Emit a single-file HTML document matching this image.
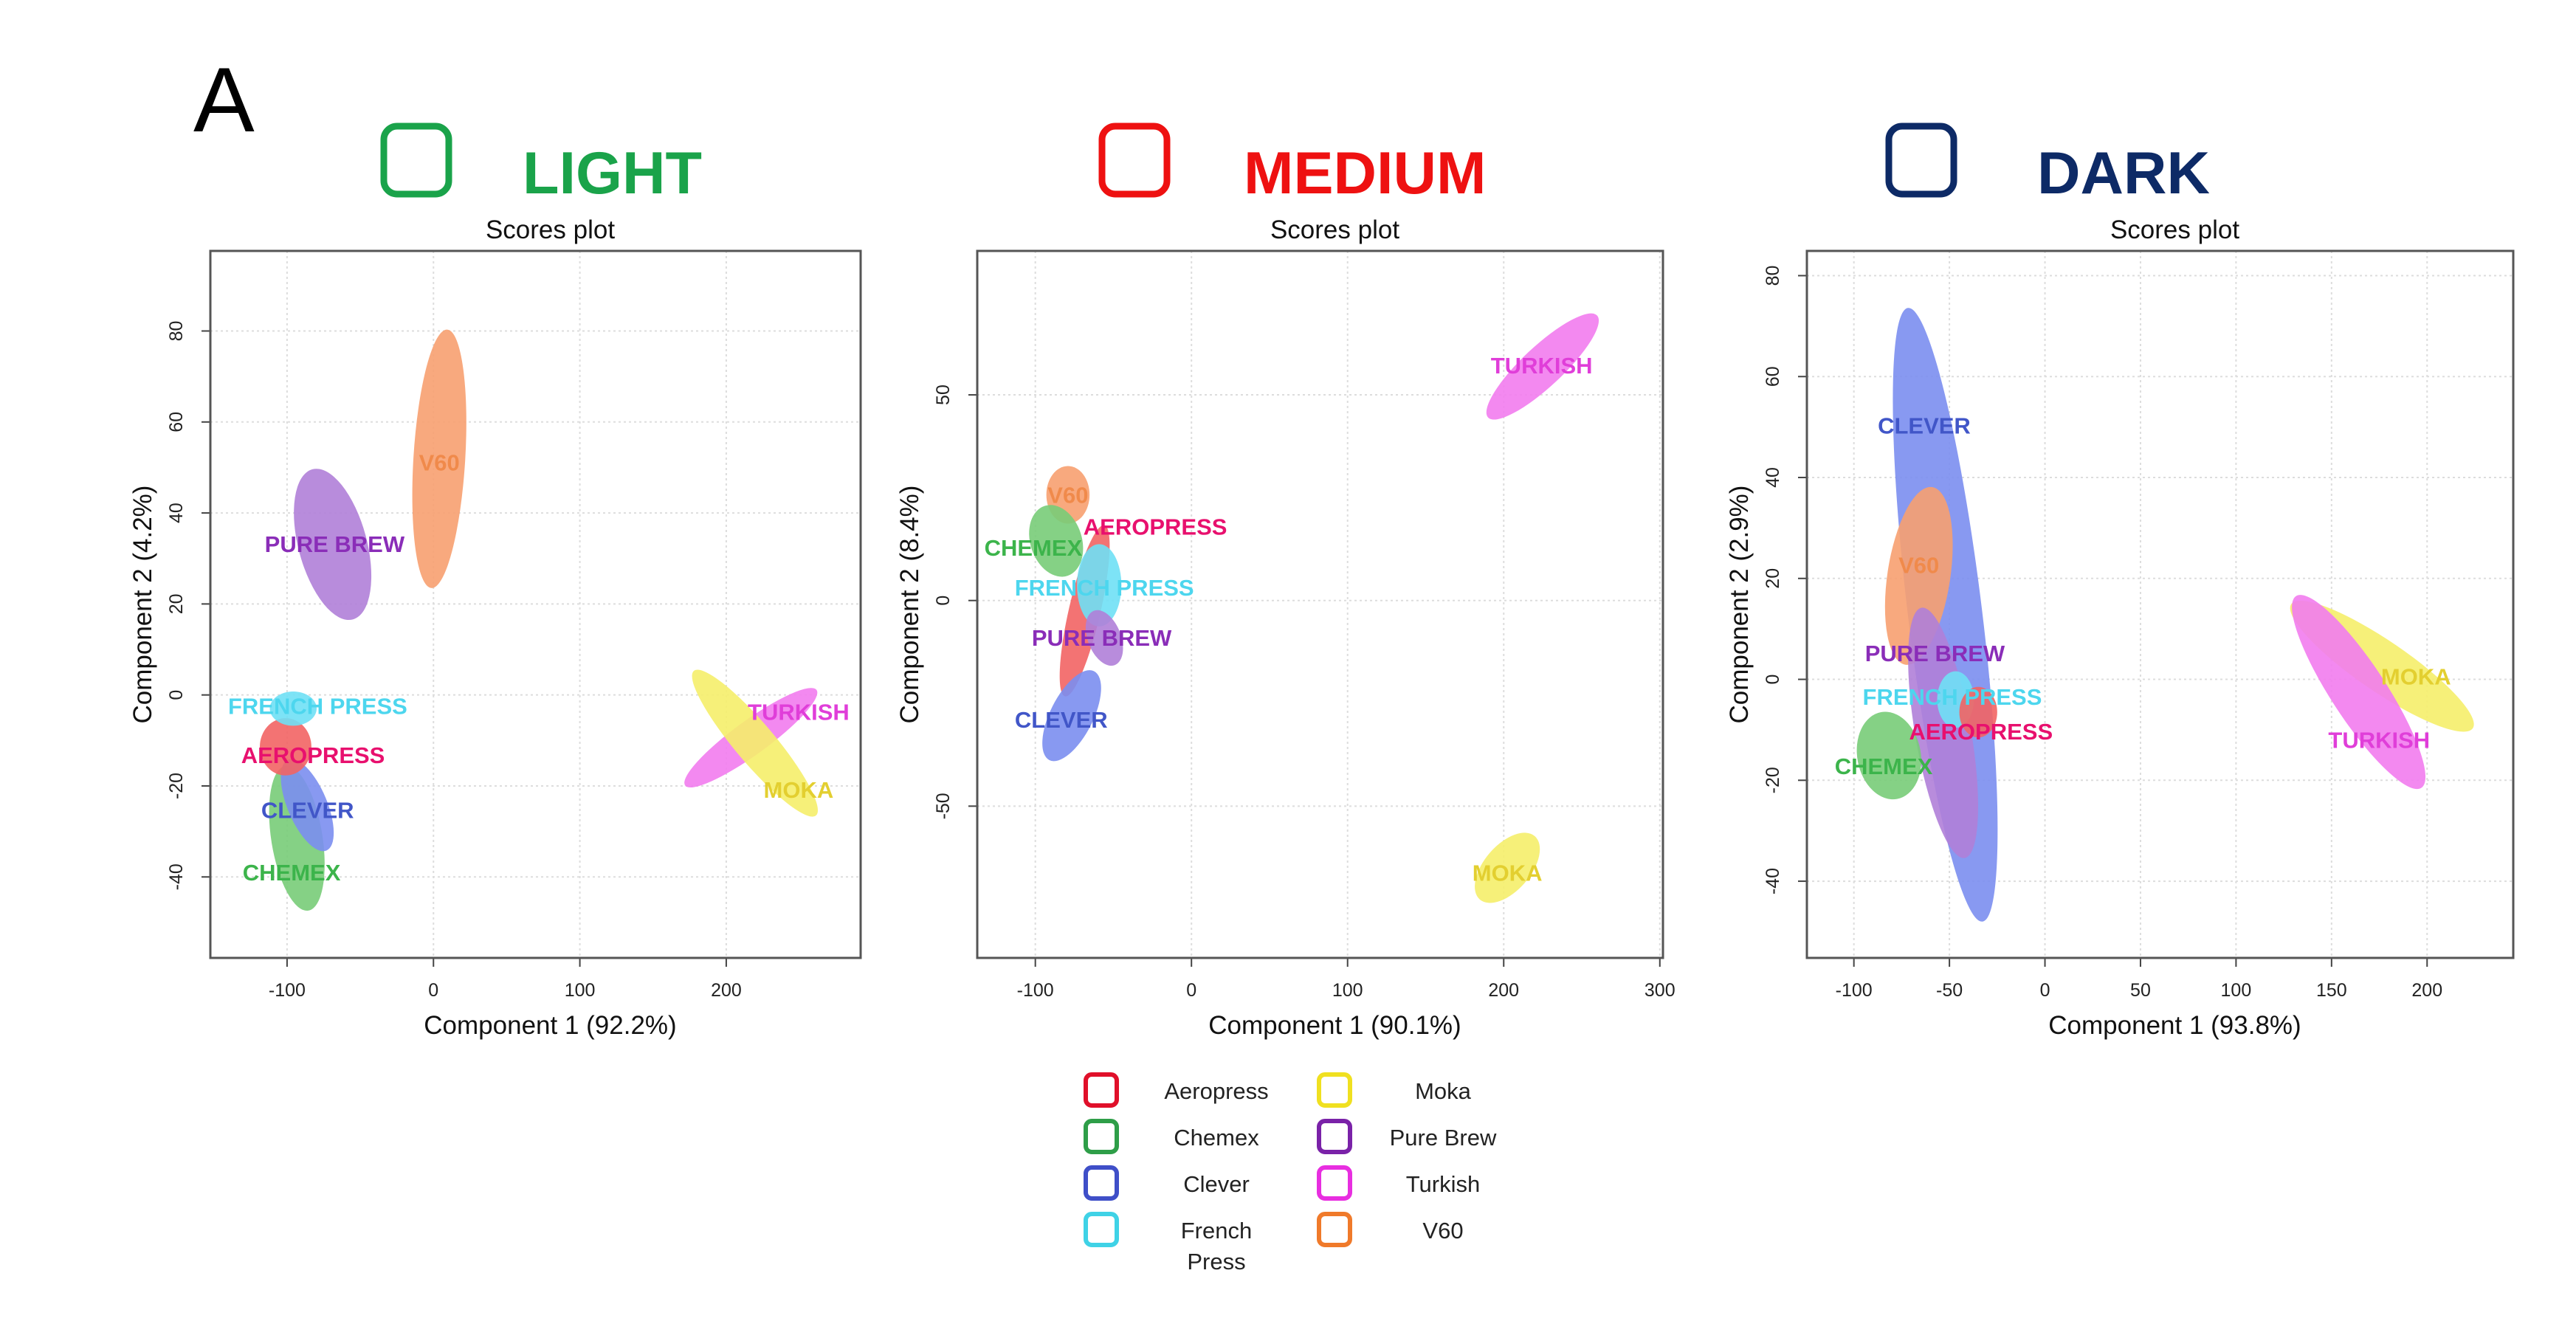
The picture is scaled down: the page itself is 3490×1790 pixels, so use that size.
<!DOCTYPE html>
<html><head><meta charset="utf-8"><style>
html,body{margin:0;padding:0;background:#fff;}
svg{display:block;font-family:"Liberation Sans",Arial,sans-serif;}
</style></head><body>
<svg id="fig" width="3490" height="1790" viewBox="0 0 3490 1790">
<text x="262" y="178" font-size="124" fill="#000">A</text>
<g>
<rect x="520" y="171" width="88" height="92" rx="18" fill="none" stroke="#1aa34a" stroke-width="9"/>
<text x="708" y="262" font-size="81" font-weight="bold" fill="#1aa34a">LIGHT</text></g>
<g>
<rect x="1493" y="171" width="88" height="92" rx="18" fill="none" stroke="#ee1111" stroke-width="9"/>
<text x="1685" y="262" font-size="81" font-weight="bold" fill="#ee1111">MEDIUM</text></g>
<g>
<rect x="2559" y="171" width="88" height="92" rx="18" fill="none" stroke="#0d2a66" stroke-width="9"/>
<text x="2760" y="262" font-size="81" font-weight="bold" fill="#0d2a66">DARK</text></g>
<g id="legend"></g>
</svg>
<script>
const methods = ["Aeropress","Chemex","Clever","French Press","Moka","Pure Brew","Turkish","V60"];
const fillColors = ["#f26464","#78cc78","#7b8ef0","#6fe0f5","#f5ee6a","#b07fd8","#f27cee","#f7a070"];
const labelColors = ["#e8106e","#3cb44b","#4156c8","#4dd6ee","#e3cf30","#8a2db8","#e03ed9","#f08a4b"];
const labelText = ["AEROPRESS","CHEMEX","CLEVER","FRENCH PRESS","MOKA","PURE BREW","TURKISH","V60"];
const panelNames = ["light","medium","dark"];
const xTitles = ["Component 1 (92.2%)","Component 1 (90.1%)","Component 1 (93.8%)"];
const yTitles = ["Component 2 (4.2%)","Component 2 (8.4%)","Component 2 (2.9%)"];
const xDomains = [[-152.4,291.8],[-137.2,302],[-124.6,245.1]];
const yDomains = [[-57.8,97.6],[-86.9,85.0],[-55.2,84.9]];
const xTicks = [[-100,0,100,200],[-100,0,100,200,300],[-100,-50,0,50,100,150,200]];
const yTicks = [[-40,-20,0,20,40,60,80],[-50,0,50],[-40,-20,0,20,40,60,80]];
// ellipse centers (data), major-axis tips (data), minor/major ratio; order = methods
const centerX = [[-101,-93.3,-86.2,-95.8,219.6,-68.9,216.8,4.0],[-68.4,-86.7,-76.7,-59.1,202.3,-55.8,224.9,-79.1],[-34.9,-81.6,-52.2,-46.8,176.4,-53.3,164.2,-66.0]];
const centerY = [[-11.4,-31.5,-24.2,-3.0,-10.6,33.1,-9.4,51.9],[-2.5,14.5,-28.0,3.7,-65.0,-9.1,56.9,25.7],[-6.5,-15.1,12.8,-4.0,2.6,-10.6,-2.5,20.5]];
const tipX = [[-101,-101.1,-99.3,-79.8,177.9,-82.7,261.7,9.4],[-55.8,-94.0,-62.4,-59.1,219.9,-62.5,259.8,-79.1],[-34.9,-85.8,-71.7,-46.8,223.9,-64.6,131.4,-59.0]];
const tipY = [[-5.1,-15.6,-14.2,-3.0,5.3,49.6,1.1,80.3],[18.3,23.0,-17.2,13.7,-57.3,-2.5,69.3,32.7],[-1.5,-6.5,73.6,1.6,-9.7,14.2,16.5,38.1]];
const ratio = [[0.9,0.35,0.4,0.73,0.21,0.44,0.21,0.2],[0.18,0.7,0.43,0.54,0.55,0.57,0.27,0.75],[0.75,0.72,0.12,0.65,0.23,0.22,0.24,0.35]];
const labelX = [[-82.3,-96.9,-86.0,-79.1,249.4,-67.5,249.4,4.0],[-23.2,-101.3,-83.4,-55.8,202.3,-57.5,224.3,-79.1],[-33.5,-84.4,-63.2,-48.5,194.2,-57.6,174.9,-66.0]];
const labelY = [[-13.2,-39.0,-25.3,-2.4,-20.8,33.2,-3.7,51.1],[18.0,12.9,-28.9,3.2,-66.2,-9.0,57.2,25.7],[-10.3,-17.2,50.3,-3.4,0.6,5.2,-12.0,22.7]];
const ellipseOrder = [[7,5,1,2,0,3,6,4],[6,4,7,1,0,3,5,2],[2,7,5,1,4,6,3,0]];

const NS="http://www.w3.org/2000/svg";
const svg=document.getElementById('fig');
function mk(tag,attrs,parent){const e=document.createElementNS(NS,tag);for(const k in attrs)e.setAttribute(k,attrs[k]);parent.appendChild(e);return e;}
const boxes=[[285,340,1166,1298],[1324,340,2253,1298],[2448,340,3405,1298]];
boxes.forEach((b,p)=>{
  const [L,T,R,B]=b;
  const g=mk('g',{},svg);
  
  
  const sx=v=>L+(v-xDomains[p][0])/(xDomains[p][1]-xDomains[p][0])*(R-L);
  const sy=v=>B-(v-yDomains[p][0])/(yDomains[p][1]-yDomains[p][0])*(B-T);
  const cx=(L+R)/2+20;
  const t=mk('text',{x:cx,y:T-17,'font-size':35,'text-anchor':'middle',fill:'#111'},g);t.textContent='Scores plot';
  
  
  xTicks[p].forEach(v=>{const x=sx(v);
    mk('line',{x1:x,x2:x,y1:T,y2:B,stroke:'#ddd','stroke-width':2,'stroke-dasharray':'3,4'},g);
    mk('line',{x1:x,x2:x,y1:B,y2:B+12,stroke:'#444','stroke-width':2},g);
    const tl=mk('text',{x:x,y:B+52,'font-size':25,'text-anchor':'middle',fill:'#222'},g);tl.textContent=v;
    
    
  });
  yTicks[p].forEach(v=>{const y=sy(v);
    mk('line',{x1:L,x2:R,y1:y,y2:y,stroke:'#ddd','stroke-width':2,'stroke-dasharray':'3,4'},g);
    mk('line',{x1:L-12,x2:L,y1:y,y2:y,stroke:'#444','stroke-width':2},g);
    const tx=L-38;
    const tl=mk('text',{x:tx,y:y,'font-size':25,'text-anchor':'middle',fill:'#222',transform:`rotate(-90 ${tx} ${y})`},g);tl.textContent=v;
    
    
  });
  ellipseOrder[p].forEach(i=>{
    const ex=sx(centerX[p][i]),ey=sy(centerY[p][i]);
    const dx=sx(tipX[p][i])-ex,dy=sy(tipY[p][i])-ey;
    const a=Math.hypot(dx,dy),ang=Math.atan2(dy,dx)*180/Math.PI;
    const e=mk('ellipse',{cx:ex,cy:ey,rx:a,ry:a*ratio[p][i],fill:fillColors[i],'fill-opacity':0.9,transform:`rotate(${ang} ${ex} ${ey})`},g);
    
    
  });
  methods.forEach((m,i)=>{
    const l=mk('text',{x:sx(labelX[p][i]),y:sy(labelY[p][i])+11,'font-size':31,'font-weight':'bold','text-anchor':'middle',fill:labelColors[i]},g);
    l.textContent=labelText[i];
    
    
  });
  mk('rect',{x:L,y:T,width:R-L,height:B-T,fill:'none',stroke:'#555','stroke-width':3},g);
  const xt=mk('text',{x:cx,y:B+103,'font-size':35,'text-anchor':'middle',fill:'#111'},g);xt.textContent=xTitles[p];
  
  
  const ytx=L-80,yty=(T+B)/2;
  const yt=mk('text',{x:ytx,y:yty,'font-size':35,'text-anchor':'middle',fill:'#111',transform:`rotate(-90 ${ytx} ${yty})`},g);yt.textContent=yTitles[p];
  
  
});
const legendColors=["#e0102a","#2e9e48","#3f4fc8","#3fd2e6","#f0e020","#7a22a8","#e82ee0","#f07a2a"];
const lg=document.getElementById('legend');
methods.forEach((m,i)=>{
  const col=Math.floor(i/4),row=i%4;
  const sqx=col?1787:1471, ty=1478+row*63;
  const txc=col?1955:1648;
  const e=mk('g',{},lg);
  
  
  mk('rect',{x:sqx,y:ty-22,width:42,height:42,rx:8,fill:'none',stroke:legendColors[i],'stroke-width':6},e);
  if(m==="French Press"){
    const a=mk('text',{x:txc,y:ty+11,'font-size':31,'text-anchor':'middle',fill:'#222'},e);a.textContent='French';
    const b=mk('text',{x:txc,y:ty+53,'font-size':31,'text-anchor':'middle',fill:'#222'},e);b.textContent='Press';
  } else {
    const a=mk('text',{x:txc,y:ty+11,'font-size':31,'text-anchor':'middle',fill:'#222'},e);a.textContent=m;
  }
});
</script>
</body></html>
